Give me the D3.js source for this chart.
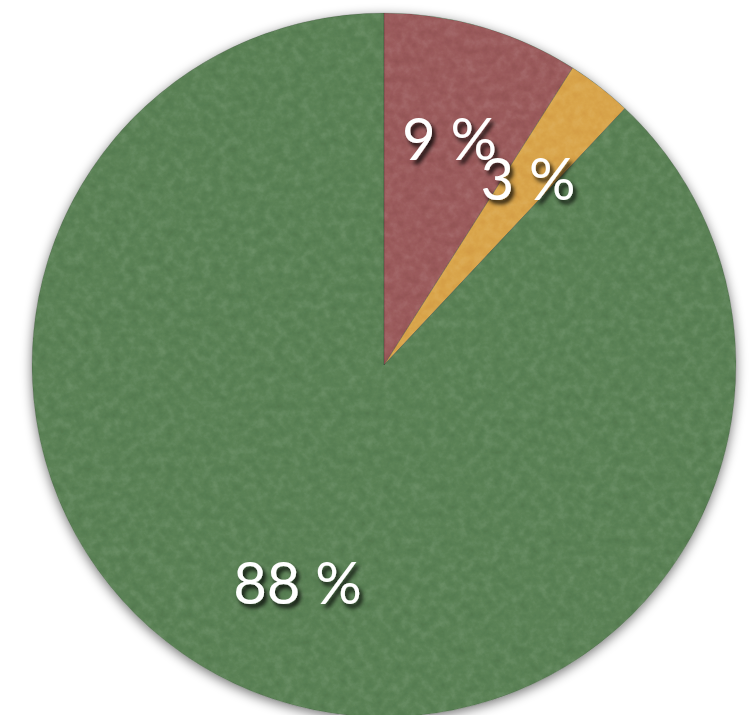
<!DOCTYPE html>
<html>
<head>
<meta charset="utf-8">
<script src="https://cdn.jsdelivr.net/npm/d3@7"></script>
<style>
  body { margin: 0; background: #fff; }
  svg { display: block; }
</style>
</head>
<body>
<svg width="752" height="715"></svg>
<script>
var svg = d3.select("svg"),
    width = +svg.attr("width"),
    height = +svg.attr("height");

// data
var categories = ["A", "B", "C"];
var values = [9, 3, 88];
var labels = ["9 %", "3 %", "88 %"];
var colors = ["#9b5b5c", "#d9a54b", "#5b8256"];

var cx = 384, cy = 365, radius = 352;

var defs = svg.append("defs");

// soft shadow under the pie
var shadow = defs.append("filter").attr("id", "shadow")
    .attr("x", "-10%").attr("y", "-10%").attr("width", "120%").attr("height", "120%");
shadow.append("feGaussianBlur").attr("in", "SourceAlpha").attr("stdDeviation", 6);
shadow.append("feOffset").attr("dx", 0).attr("dy", 3).attr("result", "b");
shadow.append("feComponentTransfer").append("feFuncA").attr("type", "linear").attr("slope", 0.55);
var m = shadow.append("feMerge");
m.append("feMergeNode");
m.append("feMergeNode").attr("in", "SourceGraphic");

// felt texture: gray noise soft-lit onto the fill
var felt = defs.append("filter").attr("id", "felt")
    .attr("x", "0").attr("y", "0").attr("width", "100%").attr("height", "100%");
felt.append("feTurbulence").attr("type", "fractalNoise").attr("baseFrequency", 0.11)
    .attr("numOctaves", 4).attr("seed", 7).attr("result", "noise");
felt.append("feColorMatrix").attr("in", "noise").attr("type", "matrix")
    .attr("values", "0.25 0 0 0 0.375  0.25 0 0 0 0.375  0.25 0 0 0 0.375  0 0 0 0 1").attr("result", "gray");
felt.append("feBlend").attr("in", "gray").attr("in2", "SourceGraphic").attr("mode", "soft-light").attr("result", "lit");
felt.append("feComposite").attr("in", "lit").attr("in2", "SourceGraphic").attr("operator", "in");

// text shadow
var ts = defs.append("filter").attr("id", "textshadow")
    .attr("x", "-20%").attr("y", "-20%").attr("width", "140%").attr("height", "140%");
ts.append("feGaussianBlur").attr("in", "SourceAlpha").attr("stdDeviation", 2.2);
ts.append("feOffset").attr("dx", 3).attr("dy", 4).attr("result", "o");
ts.append("feComponentTransfer").append("feFuncA").attr("type", "linear").attr("slope", 0.85);
var tm = ts.append("feMerge");
tm.append("feMergeNode");
tm.append("feMergeNode").attr("in", "SourceGraphic");

var pie = d3.pie().sort(null).value(function(d) { return d; });
var arcs = pie(values);

var arc = d3.arc().innerRadius(0).outerRadius(radius);
var labelArc = d3.arc().innerRadius(235).outerRadius(235);

var g = svg.append("g").attr("transform", "translate(" + cx + "," + cy + ")");

var shadowG = g.append("g").attr("filter", "url(#shadow)");
shadowG.append("circle").attr("r", radius).attr("fill", "#5b8256");

var slices = g.append("g").attr("filter", "url(#felt)");
slices.selectAll("path")
    .data(arcs)
    .enter().append("path")
    .attr("d", arc)
    .attr("fill", function(d, i) { return colors[i]; });

// slight shading along slice edges
g.append("g").selectAll("path")
    .data(arcs)
    .enter().append("path")
    .attr("d", arc)
    .attr("fill", "none")
    .attr("stroke", "rgba(0,0,0,0.12)")
    .attr("stroke-width", 1);

g.append("g").selectAll("text")
    .data(arcs)
    .enter().append("text")
    .attr("transform", function(d) { return "translate(" + labelArc.centroid(d) + ")"; })
    .attr("text-anchor", "middle")
    .attr("dy", "0.36em")
    .attr("fill", "#fff")
    .attr("filter", "url(#textshadow)")
    .style("font-family", "Lato, 'Open Sans', sans-serif")
    .style("font-size", "58px")
    .text(function(d, i) { return labels[i]; });
</script>
</body>
</html>
